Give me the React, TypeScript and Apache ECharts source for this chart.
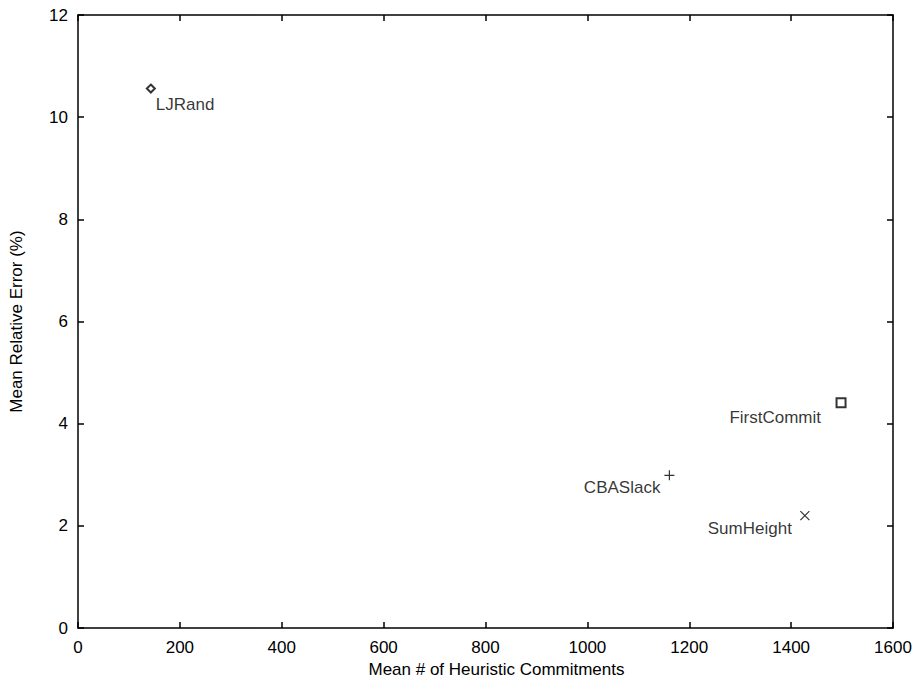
import React, { useEffect, useRef } from "react";
import * as echarts from "echarts";

const heuristics = ["LJRand", "FirstCommit", "CBASlack", "SumHeight"];
const meanCommitments = [143, 1498, 1161, 1427];
const meanRelErrorPct = [10.56, 4.41, 2.99, 2.2];

const xTicks = { min: 0, max: 1600, interval: 200 };
const yTicks = { min: 0, max: 12, interval: 2 };

const FONT = "Liberation Sans, Arial, Helvetica, sans-serif";

const markerStyle: Record<string, any> = {
  LJRand: { symbol: "emptyDiamond", size: 8, offset: [5, 16], align: "left" },
  FirstCommit: { symbol: "emptyRect", size: 9, offset: [-20, 15], align: "right" },
  CBASlack: { symbol: "path://M5,0L5,10M0,5L10,5", size: 10, offset: [-9, 12], align: "right" },
  SumHeight: { symbol: "path://M0,0L10,10M10,0L0,10", size: 9, offset: [-13, 13], align: "right" },
};

export default function App() {
  const ref = useRef<HTMLDivElement>(null);
  useEffect(() => {
    document.body.style.margin = "0";
    if (!ref.current) return;
    const chart = echarts.init(ref.current, undefined, { renderer: "svg" });
    const data = heuristics.map((name, i) => {
      const s = markerStyle[name];
      const isPath = s.symbol.startsWith("path");
      return {
        name,
        value: [meanCommitments[i], meanRelErrorPct[i]],
        symbol: s.symbol,
        symbolSize: s.size,
        itemStyle: isPath
          ? { color: "transparent", borderColor: "#000", borderWidth: 1.2 }
          : { color: "#000", borderWidth: 1.2 },
        label: {
          show: true,
          formatter: name,
          position: "inside",
          offset: s.offset,
          align: s.align,
          verticalAlign: "middle",
          color: "#000",
          fontSize: 17,
          fontFamily: FONT,
        },
      };
    });
    const axisLine = { show: true, onZero: false, lineStyle: { color: "#000", width: 1.5 } };
    const axisTick = { show: true, inside: true, length: 6, lineStyle: { color: "#000", width: 1.5 } };
    const fmt = (v: number) => String(v);
    chart.setOption({
      animation: false,
      backgroundColor: "#fff",
      grid: { left: 77, right: 23, top: 15, bottom: 51, containLabel: false },
      xAxis: [
        {
          type: "value",
          ...xTicks,
          position: "bottom",
          name: "Mean # of Heuristic Commitments",
          nameLocation: "middle",
          nameGap: 30,
          nameTextStyle: { color: "#000", fontSize: 17, fontFamily: FONT, padding: [0, 0, 0, 22] },
          axisLine,
          axisTick,
          splitLine: { show: false },
          axisLabel: { color: "#000", fontSize: 17, fontFamily: FONT, margin: 11, formatter: fmt },
        },
        {
          type: "value",
          ...xTicks,
          position: "top",
          axisLine,
          axisTick,
          splitLine: { show: false },
          axisLabel: { show: false },
        },
      ],
      yAxis: [
        {
          type: "value",
          ...yTicks,
          position: "left",
          name: "Mean Relative Error (%)",
          nameLocation: "middle",
          nameGap: 53,
          nameTextStyle: { color: "#000", fontSize: 17, fontFamily: FONT },
          axisLine,
          axisTick,
          splitLine: { show: false },
          axisLabel: { color: "#000", fontSize: 17, fontFamily: FONT, margin: 10, formatter: fmt },
        },
        {
          type: "value",
          ...yTicks,
          position: "right",
          axisLine,
          axisTick,
          splitLine: { show: false },
          axisLabel: { show: false },
        },
      ],
      series: [
        {
          type: "scatter",
          xAxisIndex: 0,
          yAxisIndex: 0,
          data,
        },
      ],
    });
    return () => chart.dispose();
  }, []);
  return <div ref={ref} style={{ width: 916, height: 683 }} />;
}
